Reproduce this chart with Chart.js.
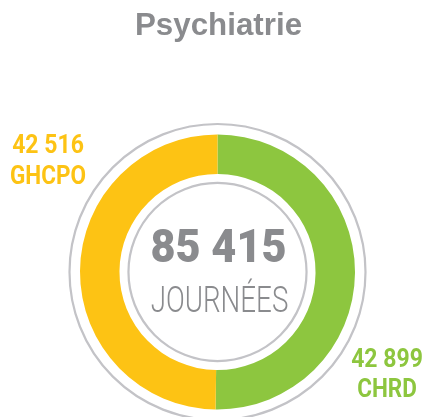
<!DOCTYPE html>
<html>
<head>
<meta charset="utf-8">
<script src="https://cdn.jsdelivr.net/npm/chart.js@4/dist/chart.umd.min.js"></script>
<style>
html,body{margin:0;padding:0;background:#fff;}
canvas{display:block;}
</style>
</head>
<body>
<canvas id="c" width="427" height="417"></canvas>
<script>
const title = "Psychiatrie";
const categories = ["CHRD", "GHCPO"];
const values = [42899, 42516];
const colors = ["#8dc63f", "#fdc314"];
const totalLabel = "JOURNÉES";

function fmt(n){ return String(n).replace(/\B(?=(\d{3})+(?!\d))/g, " "); }
const total = values.reduce((a,b)=>a+b,0);

const gray = "#8a8b8e";
const ringGray = "#c3c3c7";

function drawText(ctx, txt, x, y, font, color, sx){
  ctx.save();
  ctx.font = font;
  ctx.fillStyle = color;
  ctx.textAlign = "center";
  ctx.textBaseline = "alphabetic";
  ctx.translate(x, y);
  ctx.scale(sx, 1);
  ctx.fillText(txt, 0, 0);
  ctx.restore();
}

const decor = {
  id: "decor",
  afterDatasetsDraw(chart){
    const ctx = chart.ctx;
    const arc = chart.getDatasetMeta(0).data[0];
    const cx = arc.x, cy = arc.y, R = arc.outerRadius, r = arc.innerRadius;
    ctx.save();
    ctx.strokeStyle = ringGray;
    ctx.lineWidth = 2.2;
    ctx.beginPath(); ctx.arc(cx, cy, R + 10.5, 0, Math.PI*2); ctx.stroke();
    ctx.beginPath(); ctx.arc(cx, cy, r - 9, 0, Math.PI*2); ctx.stroke();
    ctx.restore();
    // title
    drawText(ctx, title, cx + 1, 35, "bold 31px 'Liberation Sans', Arial, sans-serif", gray, 1.01);
    // center
    drawText(ctx, fmt(total), cx + 1, cy - 10, "900 47px Roboto, sans-serif", gray, 0.92);
    drawText(ctx, totalLabel, cx + 2, cy + 40, "300 36.5px Roboto, sans-serif", gray, 0.76);
    // slice labels
    drawText(ctx, fmt(values[1]), cx - 169.5, cy - 119, "bold 25px Roboto, sans-serif", colors[1], 0.92);
    drawText(ctx, categories[1], cx - 169.5, cy - 88, "bold 25px Roboto, sans-serif", colors[1], 0.9);
    drawText(ctx, fmt(values[0]), cx + 169.5, cy + 95, "bold 25px Roboto, sans-serif", colors[0], 0.92);
    drawText(ctx, categories[0], cx + 169.5, cy + 125, "bold 25px Roboto, sans-serif", colors[0], 0.9);
  }
};

new Chart(document.getElementById("c"), {
  type: "doughnut",
  data: {
    labels: categories,
    datasets: [{
      data: values,
      backgroundColor: colors,
      borderWidth: 0,
      hoverOffset: 0
    }]
  },
  options: {
    responsive: false,
    animation: false,
    cutout: "71.3%",
    rotation: 0,
    layout: { padding: { left: 80, right: 72, top: 134.5, bottom: 7.5 } },
    plugins: { legend: { display: false }, tooltip: { enabled: false } },
    events: []
  },
  plugins: [decor]
});
</script>
</body>
</html>
